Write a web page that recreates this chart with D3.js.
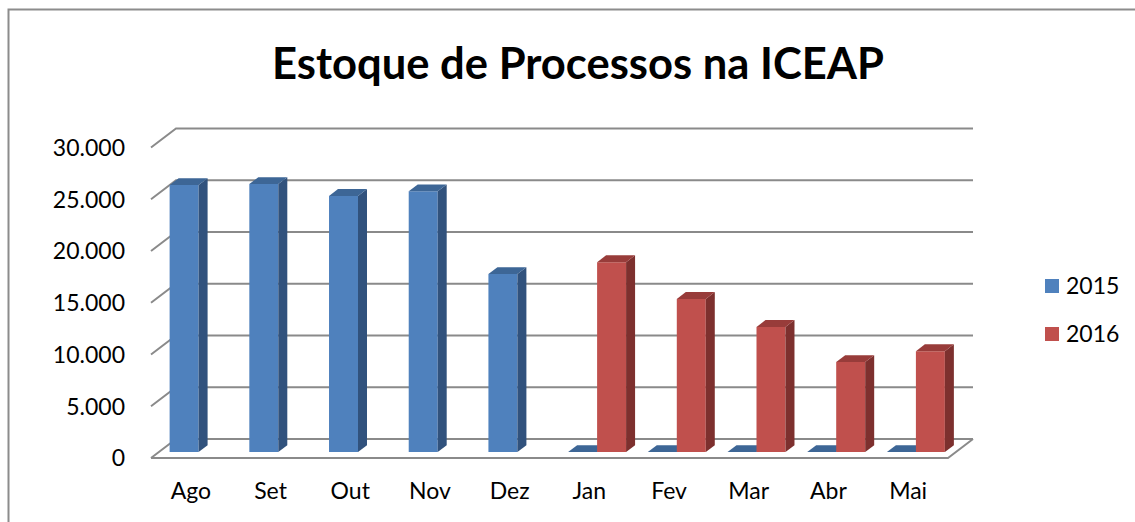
<!DOCTYPE html>
<html>
<head>
<meta charset="utf-8">
<script src="https://cdn.jsdelivr.net/npm/d3@7"></script>
<style>
  html, body { margin: 0; padding: 0; background: #fff; }
  #graphic { width: 1135px; height: 522px; overflow: hidden; }
  text { font-family: Lato, "Open Sans", sans-serif; fill: #000; }
</style>
</head>
<body>
<div id="graphic"><div class="chart"></div></div>
<script>
// Chart data
var months = ["Ago", "Set", "Out", "Nov", "Dez", "Jan", "Fev", "Mar", "Abr", "Mai"];
var seriesNames = ["2015", "2016"];
var values2015 = [25800, 25900, 24750, 25200, 17200, 0, 0, 0, 0, 0];
var values2016 = [null, null, null, null, null, 18350, 14800, 12100, 8700, 9750];
var yTicks = [0, 5000, 10000, 15000, 20000, 25000, 30000];
var titleText = "Estoque de Processos na ICEAP";

(function(window, document, d3) {
  var container = document.querySelector("#graphic");
  var chart = container.querySelector(".chart");

  var width = 1135, height = 522;

  // Floor / walls geometry (front plane bottom, depth offset to back wall)
  var floor = { left: 151, right: 948, y: 458 };
  var depth = { dx: 25, dy: -19 };
  // Bars sit inside the floor depth
  var barDepth = { front: 0.31, back: 0.67 };

  var colors = {
    "2015": { front: "#4f81bd", top: "#3d6696", side: "#31527d" },
    "2016": { front: "#c0504d", top: "#983c3a", side: "#7d302e" }
  };

  var ptBR = d3.formatLocale({ decimal: ",", thousands: ".", grouping: [3], currency: ["R$", ""] });
  var fmt = ptBR.format(",");

  // Scales
  var x = d3.scaleBand()
      .domain(months)
      .range([floor.left, floor.right]);

  // bar width with 75% gap
  var gap = x.bandwidth() / 2.75 * 0.75;
  var xSeries = d3.scaleBand()
      .domain(seriesNames)
      .range([gap / 2, x.bandwidth() - gap / 2]);

  var h = d3.scaleLinear()
      .domain([0, 30000])
      .range([0, 310.5]);

  // project (x on front floor line, value, depth fraction) to screen
  function pt(px, v, d) {
    return [px + d * depth.dx, floor.y - h(v) + d * depth.dy];
  }
  function poly(points) {
    return points.map(function(p) { return p.join(","); }).join(" ");
  }

  chart.innerHTML = "";

  var svg = d3.select(chart).append("svg")
      .attr("width", width)
      .attr("height", height);

  svg.append("rect")
    .attr("width", width)
    .attr("height", height)
    .attr("fill", "#fff");

  // Outer chart border (top + left visible)
  svg.append("path")
    .attr("d", "M8.5,530 L8.5,9.5 L1140,9.5")
    .attr("fill", "none")
    .attr("stroke", "#8c8c8c")
    .attr("stroke-width", 2);

  // Title
  var title = svg.append("text")
    .attr("x", 578)
    .attr("y", 79)
    .attr("text-anchor", "middle")
    .style("font-weight", "bold")
    .style("font-size", "40px")
    .text(titleText);
  var tw = title.node().getComputedTextLength();
  title.style("font-size", (40 * 612 / tw) + "px");

  // Gridlines: back wall horizontal + left wall diagonal
  var grid = svg.append("g").attr("class", "grid")
      .attr("stroke", "#8a8a8a")
      .attr("stroke-width", 2)
      .attr("fill", "none");

  yTicks.forEach(function(t) {
    var a = pt(floor.left, t, 0), b = pt(floor.left, t, 1), c = pt(floor.right, t, 1);
    grid.append("polyline").attr("points", poly([a, b, c]));
  });

  // Floor front edge + right edge
  grid.append("polyline")
    .attr("points", poly([pt(floor.left, 0, 0), pt(floor.right, 0, 0), pt(floor.right, 0, 1)]));

  // Axis labels
  svg.append("g").attr("class", "y-labels")
    .selectAll("text")
    .data(yTicks)
    .enter().append("text")
      .attr("x", 125)
      .attr("y", function(d) { return pt(floor.left, d, 0)[1]; })
      .attr("dy", "0.36em")
      .attr("text-anchor", "end")
      .style("font-size", "23px")
      .text(function(d) { return fmt(d); });

  svg.append("g").attr("class", "x-labels")
    .selectAll("text")
    .data(months)
    .enter().append("text")
      .attr("x", function(d) { return x(d) + x.bandwidth() / 2; })
      .attr("y", 499)
      .attr("text-anchor", "middle")
      .style("font-size", "23px")
      .text(function(d) { return d; });

  // Bars
  var rows = [];
  months.forEach(function(m, i) {
    rows.push({ month: m, series: "2015", value: values2015[i] });
    rows.push({ month: m, series: "2016", value: values2016[i] });
  });

  var bars = svg.append("g").attr("class", "bars")
    .selectAll("g.bar")
      .data(rows.filter(function(d) { return d.value !== null; }))
    .enter().append("g")
      .attr("class", "bar");

  bars.each(function(d) {
    var g = d3.select(this);
    var x0 = x(d.month) + xSeries(d.series);
    var x1 = x0 + xSeries.bandwidth();
    var f = barDepth.front, k = barDepth.back;
    var c = colors[d.series];

    if (d.value > 0) {
      // front face
      g.append("polygon")
        .attr("points", poly([pt(x0, 0, f), pt(x1, 0, f), pt(x1, d.value, f), pt(x0, d.value, f)]))
        .attr("fill", c.front);
      // right side face
      g.append("polygon")
        .attr("points", poly([pt(x1, 0, f), pt(x1, 0, k), pt(x1, d.value, k), pt(x1, d.value, f)]))
        .attr("fill", c.side);
    }
    // top face
    g.append("polygon")
      .attr("points", poly([pt(x0, d.value, f), pt(x1, d.value, f), pt(x1, d.value, k), pt(x0, d.value, k)]))
      .attr("fill", c.top);
  });

  // Legend
  var legend = svg.append("g").attr("class", "legend")
    .selectAll("g")
      .data(seriesNames)
    .enter().append("g")
      .attr("transform", function(d, i) { return "translate(1045," + (279 + i * 48) + ")"; });

  legend.append("rect")
    .attr("width", 14)
    .attr("height", 14)
    .attr("fill", function(d) { return colors[d].front; });

  legend.append("text")
    .attr("x", 21)
    .attr("y", 15)
    .style("font-size", "23px")
    .text(function(d) { return d; });

})(window, document, d3);
</script>
</body>
</html>
